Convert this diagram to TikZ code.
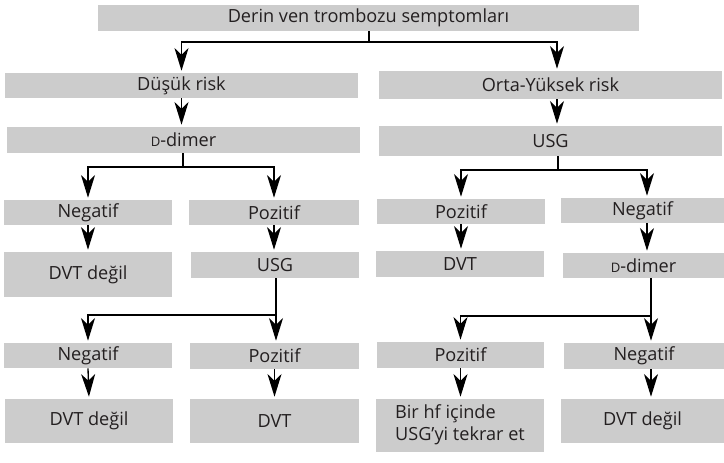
\documentclass[tikz,border=0pt]{standalone}
\usepackage{fontspec}
\setmainfont{Open Sans}
\usetikzlibrary{arrows.meta}
\definecolor{boxgray}{gray}{0.8}
\definecolor{inkgray}{RGB}{35,31,32}
\newcommand{\smallD}{{\fontsize{9.8}{10}\selectfont D}}
\newcommand{\flowbox}[6]{
	\node[box, minimum width={(#4-#2)*0.75pt}, minimum height={(#5-#3)*0.75pt}]
		(#1) at ({(#2+#4)/2},{(#3+#5)/2}) {#6};
}

\begin{document}
\begin{tikzpicture}[x=0.75pt,y=-0.75pt,
	box/.style={fill=boxgray, inner sep=0pt, text=inkgray, font=\fontsize{13.6}{16.5}\selectfont},
	flow/.style={line width=1pt, -{Stealth[length=17pt,width=10.5pt,inset=5pt]}, shorten >=1.5pt},
	link/.style={line width=1pt}]
	\useasboundingbox (0,0) rectangle (724,462);

	\flowbox{top}{98}{5}{639}{31}{Derin ven trombozu semptomları}
	\flowbox{dusuk}{5}{73}{358}{98}{Düşük risk}
	\flowbox{orta}{379}{71}{722}{99}{Orta-Yüksek risk}
	\flowbox{ddL}{7}{127}{360}{153}{\smallD-dimer}
	\flowbox{usgR}{379}{126}{722}{156}{USG}

	\flowbox{negL1}{4}{200}{172}{225}{Negatif}
	\flowbox{pozL1}{189}{200}{359}{225}{Pozitif}
	\flowbox{dvtL1}{4}{252}{172}{297}{DVT değil}
	\flowbox{usgL}{191}{252}{359}{278}{USG}
	\flowbox{pozR1}{377}{199}{545}{224}{Pozitif}
	\flowbox{negR1}{561}{198}{724}{223}{Negatif}
	\flowbox{dvtR1}{376}{251}{544}{277}{DVT}
	\flowbox{ddR}{563}{253}{724}{278}{\smallD-dimer}

	\flowbox{negL2}{4}{343}{172}{368}{Negatif}
	\flowbox{pozL2}{190}{343}{359}{369}{Pozitif}
	\flowbox{dvtL2}{5}{399}{173}{443}{DVT değil}
	\flowbox{posL2}{190}{399}{359}{443}{DVT}
	\flowbox{pozR2}{377}{342}{544}{368}{Pozitif}
	\flowbox{negR2}{564}{343}{724}{369}{Negatif}
	\flowbox{hfR2}{376}{399}{544}{452}{\begin{tabular}{@{}l@{}}Bir hf içinde\\USG’yi tekrar et\end{tabular}}
	\flowbox{dvtR2}{561}{399}{724}{443}{DVT değil}

	% branch points
	\coordinate (j0) at (369,42);
	\coordinate (j1) at (183,167);
	\coordinate (j2) at (276,315);
	\coordinate (j3) at (558,170);
	\coordinate (j4) at (651,316);
	\coordinate (cR) at (557,0);
	\coordinate (cRR) at (647,0);

	\draw[link] (top.south -| j0) -- (j0);
	\draw[flow] (j0) -| (dusuk.north);
	\draw[flow] (j0) -| (orta.north -| cR);
	\draw[flow] (dusuk.south) -- (dusuk.south |- ddL.north);
	\draw[flow] (orta.south -| cR) -- (usgR.north -| cR);

	\draw[link] (ddL.south -| j1) -- (j1);
	\draw[flow] (j1) -| (negL1.north);
	\draw[flow] (j1) -| (pozL1.north);
	\draw[flow] (negL1.south) -- (dvtL1.north);
	\draw[flow] (pozL1.south) -- (pozL1.south |- usgL.north);

	\draw[flow] (usgL.south -| j2) -- (pozL2.north -| j2);
	\draw[flow] (j2) -| (negL2.north);
	\draw[flow] (negL2.south) -- (dvtL2.north);
	\draw[flow] (pozL2.south) -- (pozL2.south |- posL2.north);

	\draw[link] (usgR.south -| j3) -- (j3);
	\draw[flow] (j3) -| (pozR1.north);
	\draw[flow] (j3) -| (negR1.north -| cRR);
	\draw[flow] (pozR1.south) -- (pozR1.south |- dvtR1.north);
	\draw[flow] (negR1.south -| cRR) -- (ddR.north -| cRR);

	\draw[flow] (ddR.south -| j4) -- (negR2.north -| j4);
	\draw[flow] (j4) -| (pozR2.north);
	\draw[flow] (pozR2.south) -- (pozR2.south |- hfR2.north);
	\draw[flow] (negR2.south -| j4) -- (dvtR2.north -| j4);
\end{tikzpicture}
\end{document}
